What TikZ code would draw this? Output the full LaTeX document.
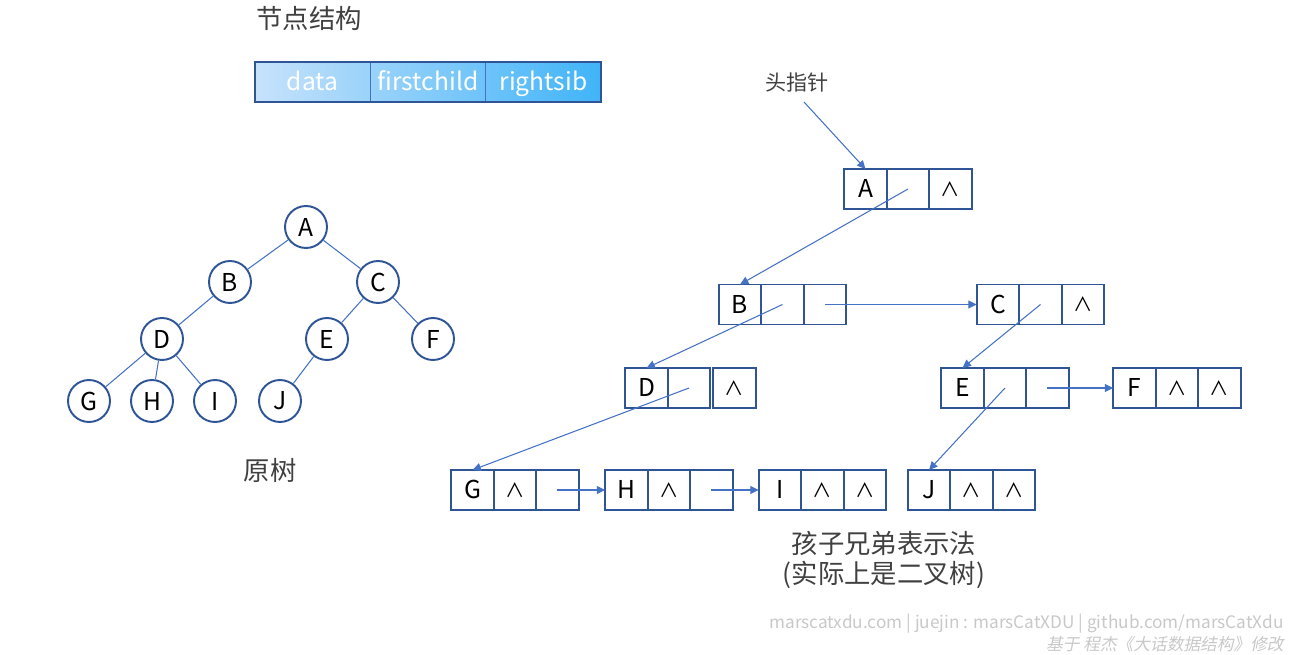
\documentclass[tikz,border=0pt]{standalone}
\usepackage{fontspec}
\setmainfont{Noto Sans CJK SC}
\newfontfamily\slantfont[FakeSlant=0.2]{Noto Sans CJK SC}
\usetikzlibrary{arrows.meta,positioning,backgrounds}
\newcommand\nilmark{\raisebox{1pt}{\fontsize{11}{11}\selectfont ∧}}

\begin{document}
\begin{tikzpicture}[x=0.02cm, y=-0.02cm, >={Triangle[length=4.8pt,width=4.5pt]}, font=\fontsize{14}{17}\selectfont]
	\definecolor{darkblue}{RGB}{47,85,151}
	\definecolor{lineblue}{RGB}{68,114,196}
	\definecolor{textgray}{RGB}{64,64,64}
	\definecolor{markgray}{RGB}{200,200,200}
	\tikzset{
		cell/.style={draw=darkblue, line width=1.1pt, minimum width=0.85cm, minimum height=0.8cm, inner sep=0pt, outer sep=0pt, text height=10pt, text depth=0pt},
		leaf/.style={circle, draw=darkblue, line width=1.1pt, minimum size=0.84cm, inner sep=0pt},
		link/.style={lineblue, line width=0.6pt},
		field/.style={draw=lineblue, line width=0.6pt, minimum width=2.31cm, minimum height=0.8cm, outer sep=0pt, text=white, text height=10pt, text depth=0.3pt, font=\fontsize{14}{16}\selectfont},
		caption/.style={textgray, font=\fontsize{15}{17}\selectfont}
	}

	% 画布
	\useasboundingbox (0,0) rectangle (1296,655);

	% 节点结构
	\node[caption] (title) at (309,18) {节点结构};
	\node[field] (hdata) at (312.5,82) {data};
	\node[field, right=0pt of hdata] (hfirst) {firstchild};
	\node[field, right=0pt of hfirst] (hright) {rightsib};
	\begin{scope}[on background layer]
		\shade[shading=axis, shading angle=80, left color={rgb,255:red,199;green,226;blue,251}, right color={rgb,255:red,64;green,180;blue,248}] (hdata.north west) rectangle (hright.south east);
	\end{scope}
	\draw[darkblue, line width=1.3pt] (hdata.north west) rectangle (hright.south east);

	% 原树
	\node[leaf] (tA) at (306,227) {A};
	\node[leaf] (tB) at (230,282) {B};
	\node[leaf] (tC) at (378,282) {C};
	\node[leaf] (tD) at (162,339) {D};
	\node[leaf] (tE) at (327,339) {E};
	\node[leaf] (tF) at (433,339) {F};
	\node[leaf] (tG) at (89,401) {G};
	\node[leaf] (tH) at (152,401) {H};
	\node[leaf] (tI) at (215,401) {I};
	\node[leaf] (tJ) at (280,401) {J};
	\foreach \p/\q in {A/B, A/C, B/D, C/E, C/F, D/G, D/H, D/I, E/J}
		\draw[link] (t\p) -- (t\q);
	\node[caption] (orig) at (270,470) {原树};

	% 孩子兄弟表示法
	\foreach \n/\x/\y/\b/\c/\g in {A/865.5/189//\nilmark/0pt, B/740/304.5///0pt, C/998/304.5//\nilmark/0pt,
		D/646.5/388//\nilmark/0.06cm, E/962.5/388///0pt, F/1134.5/388/\nilmark/\nilmark/0pt,
		G/472.5/490/\nilmark//0pt, H/626.5/490/\nilmark//0pt, I/780/490/\nilmark/\nilmark/0pt,
		J/929/490/\nilmark/\nilmark/0pt}{
		\node[cell] (\n1) at (\x,\y) {\n};
		\node[cell, right=0pt of \n1] (\n2) {\b};
		\node[cell, right=\g of \n2] (\n3) {\c};
	}

	\node[textgray, font=\fontsize{12}{14}\selectfont] (headptr) at (797,82) {头指针};
	\coordinate (hpstart) at (804,102);
	\draw[link, ->] (hpstart) -- (A1.north);
	\draw[link, ->] (A2.center) -- (B1.north);
	\draw[link, ->] (B3.center) -- (C1.west);
	\draw[link, ->] (B2.center) -- (D1.north);
	\draw[link, ->] (C2.center) -- (E1.north);
	\draw[link, ->] (E3.center) -- (F1.west);
	\draw[link, ->] (D2.center) -- (G1.north);
	\draw[link, ->] (E2.center) -- (J1.north);
	\draw[link, ->] (G3.center) -- (H1.west);
	\draw[link, ->] (H3.center) -- (I1.west);

	\node[caption, align=center] (method) at (884,560) {孩子兄弟表示法\\(实际上是二叉树)};

	% 水印
	\node[markgray, anchor=east, inner sep=0pt, font=\fontsize{9.8}{11}\selectfont] (mark1) at (1284,624) {marscatxdu.com | juejin : marsCatXDU | github.com/marsCatXdu};
	\node[markgray, anchor=east, inner sep=0pt, font={\slantfont\fontsize{9.5}{11}\selectfont}] (mark2) at (1284,644) {基于 程杰《大话数据结构》修改};
\end{tikzpicture}
\end{document}
